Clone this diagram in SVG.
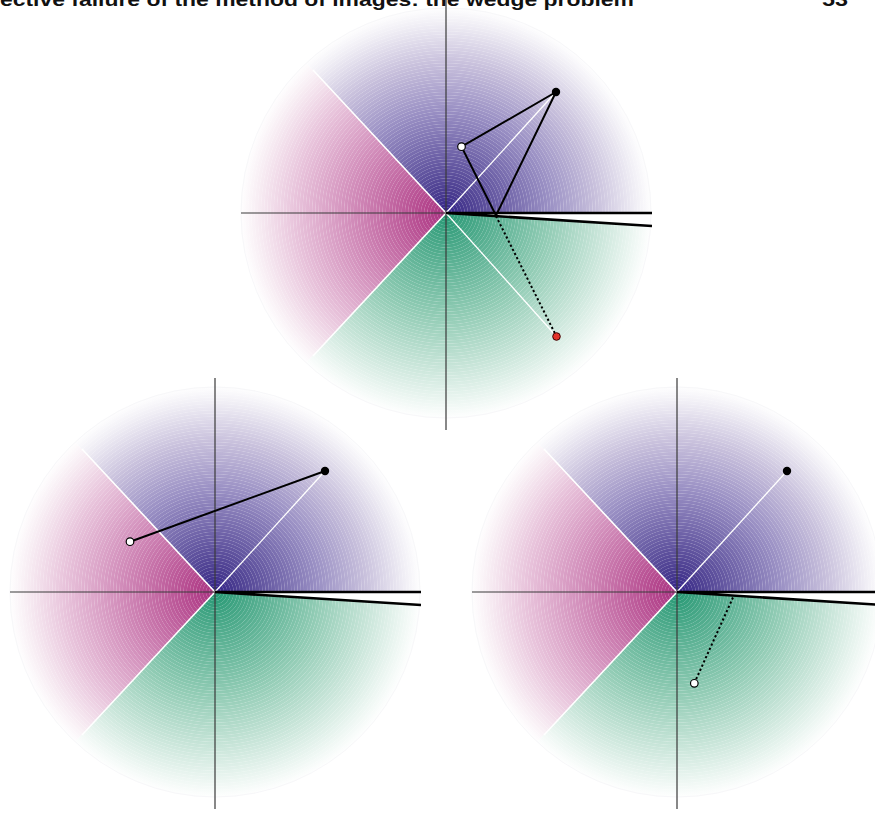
<svg xmlns="http://www.w3.org/2000/svg" xmlns:xlink="http://www.w3.org/1999/xlink" width="875" height="813" viewBox="0 0 875 813">
<style>
.title{font-family:"Liberation Sans",Arial,sans-serif;font-weight:bold;font-size:19px;fill:#111}
.axis{stroke:#3a3a3a;stroke-width:1.2;fill:none}
.bound{stroke:#fff;stroke-width:1.6;fill:none}
.wedge{stroke:#000;stroke-width:2.6;fill:none}
.ray{stroke:#fff;stroke-width:1.3;fill:none}
.seg{stroke:#000;stroke-width:2;fill:none}
.dot{stroke:#000;stroke-width:2;stroke-dasharray:2.2 2.4;fill:none}
.blk{fill:#000}
.wht{fill:#fff;stroke:#000;stroke-width:1.2}
.red{fill:#e3332b;stroke:#3a0000;stroke-width:1}
</style>
<defs>
<radialGradient id="gP" gradientUnits="userSpaceOnUse" cx="0" cy="0" r="206">
<stop offset="0" stop-color="#33238a"/><stop offset="0.1" stop-color="#4a3c90"/><stop offset="0.5" stop-color="#9a90c4"/><stop offset="0.73" stop-color="#c8c0dc"/><stop offset="0.92" stop-color="#f0eef5"/><stop offset="1" stop-color="#fff"/>
</radialGradient>
<radialGradient id="gM" gradientUnits="userSpaceOnUse" cx="0" cy="0" r="206">
<stop offset="0" stop-color="#a83382"/><stop offset="0.1" stop-color="#b4468d"/><stop offset="0.5" stop-color="#d595bf"/><stop offset="0.73" stop-color="#e8c3db"/><stop offset="0.92" stop-color="#f8eef4"/><stop offset="1" stop-color="#fff"/>
</radialGradient>
<radialGradient id="gG" gradientUnits="userSpaceOnUse" cx="0" cy="0" r="206">
<stop offset="0" stop-color="#249873"/><stop offset="0.1" stop-color="#3ea382"/><stop offset="0.5" stop-color="#92ccb5"/><stop offset="0.73" stop-color="#c4e3d6"/><stop offset="0.92" stop-color="#eef7f3"/><stop offset="1" stop-color="#fff"/>
</radialGradient>
<radialGradient id="rings" gradientUnits="userSpaceOnUse" cx="0" cy="0" r="3.2" spreadMethod="repeat">
<stop offset="0" stop-color="#fff" stop-opacity="0"/><stop offset="0.65" stop-color="#fff" stop-opacity="0"/><stop offset="0.82" stop-color="#fff" stop-opacity="0.25"/><stop offset="1" stop-color="#fff" stop-opacity="0"/>
</radialGradient>
<g id="wheel">
<path d="M0,0 L206,0 A206,206 0 0,0 -140.5,-150.6 Z" fill="url(#gP)"/>
<path d="M0,0 L-140.5,-150.6 A206,206 0 0,0 -140.5,150.6 Z" fill="url(#gM)"/>
<path d="M0,0 L-140.5,150.6 A206,206 0 0,0 205.6,13 Z" fill="url(#gG)"/>
<circle r="206" fill="url(#rings)"/>
<circle r="205" fill="none" stroke="#f7f7f9" stroke-width="1"/>
<path class="bound" d="M0,0 L-133,-143 M0,0 L-133,143"/>
<path class="axis" d="M0,-214 V217 M-205,0 H206"/>
</g>
</defs>
<rect width="875" height="813" fill="#fff"/>
<text class="title" x="0" y="5.5" textLength="634" lengthAdjust="spacingAndGlyphs">ective failure of the method of images: the wedge problem</text>
<text class="title" x="822" y="5.5" textLength="26" lengthAdjust="spacingAndGlyphs">53</text>

<g id="wedge-top"><use xlink:href="#wheel" href="#wheel" transform="translate(446,213)"/></g>
<g id="wedge-left"><use xlink:href="#wheel" href="#wheel" transform="translate(215,592)"/></g>
<g id="wedge-right"><use xlink:href="#wheel" href="#wheel" transform="translate(677,592)"/></g>

<g id="connectors">
<path class="ray" d="M446,213 L556,92 M446,213 L556.5,336.5"/>
<path class="dot" d="M496,216 L556.5,336.5"/>
<path class="seg" d="M556,92 L461.5,146.7 L496,215.5 Z" stroke-linejoin="miter"/>
<path class="wedge" d="M446,213 H652 M446,213 L652,226"/>

<path class="ray" d="M215,592 L325,471"/>
<path class="seg" d="M325,471 L130,541.7"/>
<path class="wedge" d="M215,592 H421 M215,592 L421,605"/>

<path class="ray" d="M677,592 L787,471"/>
<path class="dot" d="M733,597.5 L694.3,683.3"/>
<path class="wedge" d="M677,592 H883 M677,592 L883,605"/>
</g>

<g id="top-source"><circle class="blk" cx="556" cy="92" r="4.2"/></g>
<g id="top-image"><circle class="wht" cx="461.5" cy="146.7" r="3.8"/></g>
<g id="top-red"><circle class="red" cx="556.5" cy="336.5" r="3.8"/></g>
<g id="left-source"><circle class="blk" cx="325" cy="471" r="4.2"/></g>
<g id="left-image"><circle class="wht" cx="130" cy="541.7" r="3.8"/></g>
<g id="right-source"><circle class="blk" cx="787" cy="471" r="4.2"/></g>
<g id="right-image"><circle class="wht" cx="694.3" cy="683.3" r="3.8"/></g>
</svg>
